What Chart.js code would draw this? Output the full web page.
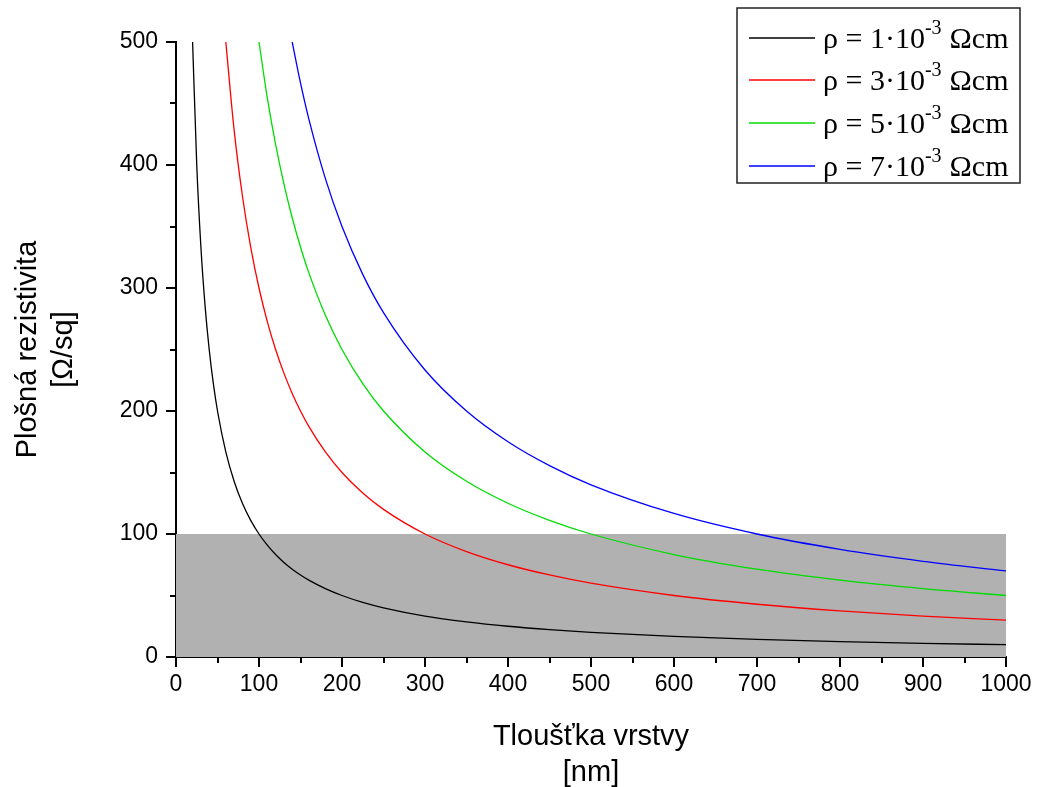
<!DOCTYPE html>
<html>
<head>
<meta charset="utf-8">
<script src="https://cdn.jsdelivr.net/npm/chart.js@4"></script>
<style>
  html, body { margin: 0; padding: 0; background: #fff; }
  #wrap { width: 1039px; height: 787px; }
</style>
</head>
<body>
<div id="wrap"><canvas id="c"></canvas></div>
<script>
// thickness of the layer [nm]
const thickness = [20, 25, 30, 35, 40, 45, 50, 60, 70, 80, 90, 100, 110, 120, 130, 140, 150, 160, 180, 200, 225, 250, 300, 350, 400, 450, 500, 600, 700, 800, 900, 1000];

// sheet resistance [Ω/sq], null where it is above the plotted range
const rs1 = [500, 400, 333.3, 285.7, 250, 222.2, 200, 166.7, 142.9, 125, 111.1, 100, 90.9, 83.3, 76.9, 71.4, 66.7, 62.5, 55.6, 50, 44.4, 40, 33.3, 28.6, 25, 22.2, 20, 16.7, 14.3, 12.5, 11.1, 10];
const rs3 = [null, null, null, null, null, null, null, 500, 428.6, 375, 333.3, 300, 272.7, 250, 230.8, 214.3, 200, 187.5, 166.7, 150, 133.3, 120, 100, 85.7, 75, 66.7, 60, 50, 42.9, 37.5, 33.3, 30];
const rs5 = [null, null, null, null, null, null, null, null, null, null, null, 500, 454.5, 416.7, 384.6, 357.1, 333.3, 312.5, 277.8, 250, 222.2, 200, 166.7, 142.9, 125, 111.1, 100, 83.3, 71.4, 62.5, 55.6, 50];
const rs7 = [null, null, null, null, null, null, null, null, null, null, null, null, null, null, null, 500, 466.7, 437.5, 388.9, 350, 311.1, 280, 233.3, 200, 175, 155.6, 140, 116.7, 100, 87.5, 77.8, 70];

const rhoCoef = [1, 3, 5, 7];
const seriesColors = ['#000000', '#ff0000', '#00dd00', '#0000ff'];

// acceptable region (below 100 Ω/sq)
const limitX = [0, 1000];
const limitY = [100, 100];

const xTicks = [0, 100, 200, 300, 400, 500, 600, 700, 800, 900, 1000];
const yTicks = [0, 100, 200, 300, 400, 500];

const toPts = (xs, ys) => xs.map((x, i) => ({ x, y: ys[i] }));
const curves = [rs1, rs3, rs5, rs7];

const datasets = curves.map((ys, i) => ({
  label: `ρ = ${rhoCoef[i]}·10-3 Ωcm`,
  data: toPts(thickness, ys),
  borderColor: seriesColors[i],
  borderWidth: 1.3,
  pointRadius: 0,
  fill: false,
  cubicInterpolationMode: 'monotone',
  spanGaps: false,
  order: 1
}));

datasets.push({
  label: 'limit',
  data: toPts(limitX, limitY),
  borderWidth: 0,
  borderColor: 'rgba(0,0,0,0)',
  backgroundColor: '#b1b1b1',
  pointRadius: 0,
  fill: 'origin',
  order: 5
});

const AX_FONT = { family: "'Liberation Sans', Arial, sans-serif", size: 23 };
const TITLE_FONT = { family: "'Liberation Sans', Arial, sans-serif", size: 29, lineHeight: 1.25 };

// minor ticks halfway between the labelled ones
const minorTicks = {
  id: 'minorTicks',
  afterDraw(chart) {
    const { ctx, scales: { x, y } } = chart;
    ctx.save();
    ctx.strokeStyle = '#000';
    ctx.lineWidth = 2;
    ctx.beginPath();
    for (let v = 50; v < 1000; v += 100) {
      const px = Math.round(x.getPixelForValue(v));
      ctx.moveTo(px, x.top);
      ctx.lineTo(px, x.top + 6);
    }
    for (let v = 50; v < 500; v += 100) {
      const py = Math.round(y.getPixelForValue(v));
      ctx.moveTo(y.right, py);
      ctx.lineTo(y.right - 6, py);
    }
    ctx.stroke();
    ctx.restore();
  }
};

// framed legend with superscript exponent
const boxLegend = {
  id: 'boxLegend',
  afterDraw(chart) {
    const ctx = chart.ctx;
    const bx = 737, by = 8, bw = 283, bh = 175;
    ctx.save();
    ctx.fillStyle = '#fff';
    ctx.fillRect(bx, by, bw, bh);
    ctx.strokeStyle = '#222';
    ctx.lineWidth = 1.5;
    ctx.strokeRect(bx, by, bw, bh);
    const rowY = [38, 80, 123, 166];
    const serif = "'Liberation Serif', 'Times New Roman', serif";
    rhoCoef.forEach((c, i) => {
      const yy = rowY[i];
      ctx.strokeStyle = seriesColors[i];
      ctx.lineWidth = 1.3;
      ctx.beginPath();
      ctx.moveTo(749, yy);
      ctx.lineTo(815, yy);
      ctx.stroke();
      ctx.fillStyle = '#000';
      ctx.textBaseline = 'middle';
      ctx.textAlign = 'left';
      ctx.font = `30px ${serif}`;
      let tx = 823;
      const base = `ρ = ${c}·10`;
      ctx.fillText(base, tx, yy + 2);
      tx += ctx.measureText(base).width;
      ctx.font = `20px ${serif}`;
      ctx.fillText('-3', tx, yy - 9);
      tx += ctx.measureText('-3').width + 8;
      ctx.font = `30px ${serif}`;
      ctx.fillText('Ωcm', tx, yy + 2);
    });
    ctx.restore();
  }
};

new Chart(document.getElementById('c'), {
  type: 'line',
  data: { datasets },
  options: {
    responsive: true,
    maintainAspectRatio: false,
    animation: false,
    layout: { padding: { top: 42, right: 33, left: 0, bottom: 0 } },
    plugins: {
      legend: { display: false },
      tooltip: { enabled: false }
    },
    scales: {
      x: {
        type: 'linear',
        min: 0,
        max: 1000,
        afterFit: s => { s.height = 130; },
        afterBuildTicks: s => { s.ticks = xTicks.map(v => ({ value: v })); },
        border: { color: '#000', width: 2 },
        grid: { drawOnChartArea: false, drawTicks: true, tickLength: 10, color: '#000', lineWidth: 2 },
        ticks: { font: AX_FONT, color: '#000', padding: 4, maxRotation: 0, callback: v => String(v) },
        title: {
          display: true,
          text: ['Tloušťka vrstvy', '[nm]'],
          font: TITLE_FONT,
          color: '#000',
          padding: { top: 24, bottom: -4 }
        }
      },
      y: {
        type: 'linear',
        min: 0,
        max: 500,
        afterFit: s => { s.width = 176; },
        afterBuildTicks: s => { s.ticks = yTicks.map(v => ({ value: v })); },
        border: { color: '#000', width: 2 },
        grid: { drawOnChartArea: false, drawTicks: true, tickLength: 10, color: '#000', lineWidth: 2 },
        ticks: { font: AX_FONT, color: '#000', padding: 8, callback: v => String(v) },
        title: {
          display: true,
          text: ['Plošná rezistivita', '[Ω/sq]'],
          font: TITLE_FONT,
          color: '#000',
          padding: { top: 10, bottom: 20 }
        }
      }
    }
  },
  plugins: [minorTicks, boxLegend]
});
</script>
</body>
</html>
